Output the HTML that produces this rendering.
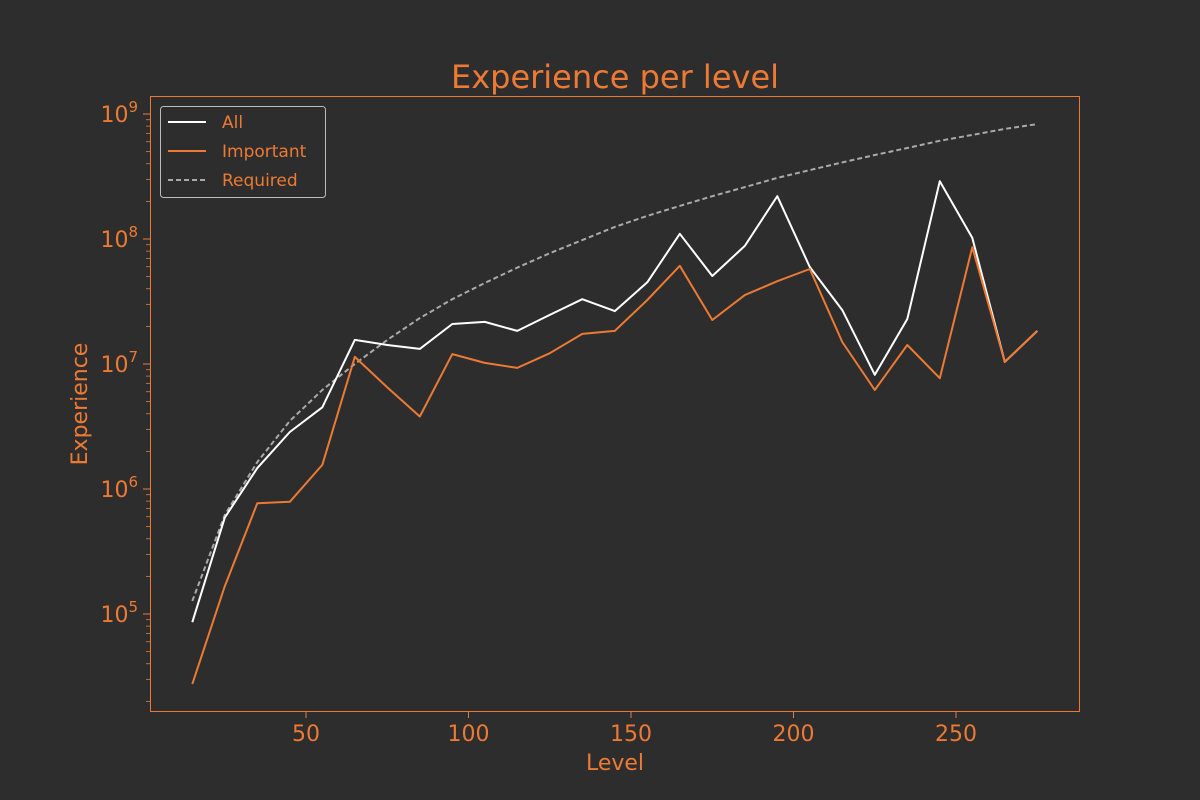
<!DOCTYPE html>
<html><head><meta charset="utf-8"><style>
body{margin:0;background:#2d2d2d;}
svg{display:block;font-family:"DejaVu Sans","Liberation Sans",sans-serif;}
</style></head><body>
<svg id="chart" width="1200" height="800">
<rect width="1200" height="800" fill="#2d2d2d"/>
<text x="615" y="88" text-anchor="middle" font-size="32" fill="#ec7a34">Experience per level</text>
<g id="axes"></g>
<g id="series"></g>
<g id="legend">
<rect x="160.5" y="106.5" width="165" height="91" rx="3" fill="#2d2d2d" stroke="#bbbbbb" stroke-width="1"/>
<line x1="168" y1="122" x2="206" y2="122" stroke="#ffffff" stroke-width="2"/>
<text x="222" y="128" font-size="17" fill="#ec7a34">All</text>
<line x1="168" y1="151" x2="206" y2="151" stroke="#ec7a34" stroke-width="2"/>
<text x="222" y="157" font-size="17" fill="#ec7a34">Important</text>
<line x1="168" y1="180" x2="206" y2="180" stroke="#aaaaaa" stroke-width="2" stroke-dasharray="5,3"/>
<text x="222" y="186" font-size="17" fill="#ec7a34">Required</text>
</g>
</svg>
<script>
const levels=[15,25,35,45,55,65,75,85,95,105,115,125,135,145,155,165,175,185,195,205,215,225,235,245,255,265,275];
const allExp=[8.6e4,5.9e5,1.47e6,2.86e6,4.5e6,1.56e7,1.42e7,1.32e7,2.09e7,2.17e7,1.84e7,2.47e7,3.3e7,2.65e7,4.5e7,1.1e8,5.06e7,8.8e7,2.2e8,5.97e7,2.7e7,8.2e6,2.29e7,2.9e8,1.02e8,1.04e7,1.84e7];
const importantExp=[2.75e4,1.67e5,7.7e5,7.9e5,1.56e6,1.14e7,6.5e6,3.8e6,1.2e7,1.02e7,9.3e6,1.22e7,1.74e7,1.84e7,3.25e7,6.1e7,2.25e7,3.56e7,4.6e7,5.75e7,1.5e7,6.2e6,1.42e7,7.7e6,8.6e7,1.04e7,1.84e7];
const requiredExp=[1.27e5,6.2e5,1.64e6,3.5e6,6.2e6,1.0e7,1.56e7,2.33e7,3.3e7,4.45e7,5.9e7,7.7e7,9.8e7,1.25e8,1.53e8,1.84e8,2.2e8,2.6e8,3.08e8,3.56e8,4.1e8,4.7e8,5.35e8,6.1e8,6.8e8,7.6e8,8.3e8];
const xTicks=[50,100,150,200,250];
const yDecades=[5,6,7,8,9];

const NS="http://www.w3.org/2000/svg";
const X=v=>143.5+v*3.25;
const Y=v=>114+(9-Math.log10(v))*125;
const C="#ec7a34";
function mk(tag,attrs,parent){const e=document.createElementNS(NS,tag);for(const k in attrs)e.setAttribute(k,attrs[k]);parent.appendChild(e);return e;}
const axes=document.getElementById('axes'),series=document.getElementById('series');
const frame=mk('rect',{x:150.5,y:96.5,width:929,height:615,fill:'none',stroke:C,'stroke-width':1},axes);


xTicks.forEach(t=>{
  const l=mk('line',{x1:X(t),x2:X(t),y1:712,y2:718,stroke:C,'stroke-width':1},axes);
  
  
  const tx=mk('text',{x:X(t),y:741,'text-anchor':'middle','font-size':22,fill:C},axes);
  tx.textContent=t;
  
  
});
for(let d=4;d<=9;d++){
  for(let m=2;m<=9;m++){
    const v=m*Math.pow(10,d),y=Y(v);
    if(y<97||y>711)continue;
    const l=mk('line',{x1:146,x2:150,y1:y,y2:y,stroke:C,'stroke-width':0.8},axes);
    
    
  }
}
yDecades.forEach(d=>{
  const y=Y(Math.pow(10,d));
  const l=mk('line',{x1:143,x2:150,y1:y,y2:y,stroke:C,'stroke-width':1},axes);
  
  
  const tx=mk('text',{x:138,y:y+8,'text-anchor':'end','font-size':22,fill:C},axes);
  tx.innerHTML='10<tspan dy="-10" font-size="15">'+d+'</tspan>';
  
  
});
const xl=mk('text',{x:615,y:770,'text-anchor':'middle','font-size':22,fill:C},axes);
xl.textContent='Level';


const yl=mk('text',{x:87,y:404,'text-anchor':'middle','font-size':22,fill:C,transform:'rotate(-90 87 404)'},axes);
yl.textContent='Experience';


function line(data,stroke,dash,name){
  const pts=levels.map((lv,i)=>X(lv).toFixed(1)+','+Y(data[i]).toFixed(1)).join(' ');
  const p=mk('polyline',{points:pts,fill:'none',stroke:stroke,'stroke-width':2,'stroke-linejoin':'round'},series);
  if(dash)p.setAttribute('stroke-dasharray',dash);
  
  
}
line(requiredExp,'#aaaaaa','5,3','required-line');
line(allExp,'#ffffff',null,'all-line');
line(importantExp,C,null,'important-line');
</script>
</body></html>
